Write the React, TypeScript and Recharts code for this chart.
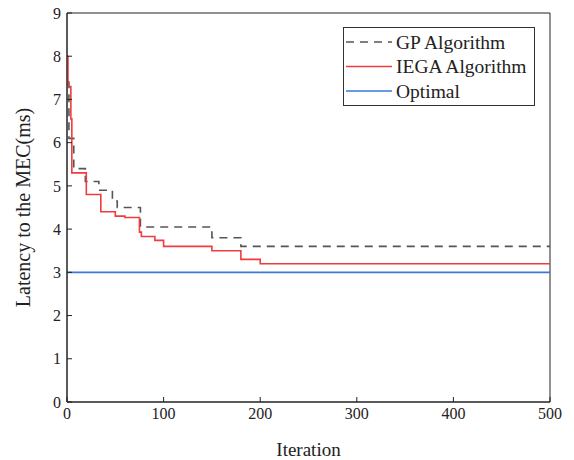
import React from "react";
import { LineChart, Line, XAxis, YAxis, ReferenceArea } from "recharts";

// GP algorithm (dashed gray), step curve
const gpIter = [0, 2, 7, 19, 33, 47, 52, 76, 150, 180, 500];
const gpLatency = [7.4, 6.1, 5.4, 5.1, 4.9, 4.65, 4.5, 4.05, 3.8, 3.6, 3.6];

// IEGA algorithm (red), step curve
const iegaIter = [0, 1, 4, 5, 20, 35, 50, 60, 75, 77, 91, 100, 150, 180, 200, 500];
const iegaLatency = [8.0, 7.3, 6.55, 5.3, 4.8, 4.4, 4.3, 4.27, 3.93, 3.83, 3.74, 3.6, 3.5, 3.3, 3.2, 3.2];

// optimal latency
const optIter = [0, 500];
const optLatency = [3, 3];

const xTicks = [0, 100, 200, 300, 400, 500];
const yTicks = [0, 1, 2, 3, 4, 5, 6, 7, 8, 9];

const seriesNames = ["GP Algorithm", "IEGA Algorithm", "Optimal"];

const toRows = (xs: number[], ys: number[]) => xs.map((x, i) => ({ iter: x, latency: ys[i] }));

const gpData = toRows(gpIter, gpLatency);
const iegaData = toRows(iegaIter, iegaLatency);
const optData = toRows(optIter, optLatency);

const FONT = "'Liberation Serif', 'Times New Roman', serif";
const GRAY = "#555555";
const RED = "#f03c3c";
const BLUE = "#3a78d8";

function LegendBox() {
  const items = [
    { name: seriesNames[0], color: GRAY, dash: "8 6" },
    { name: seriesNames[1], color: RED, dash: undefined },
    { name: seriesNames[2], color: BLUE, dash: undefined },
  ];
  return (
    <svg width={192} height={79} style={{ display: "block" }}>
      <rect x={0.5} y={0.5} width={191} height={78} fill="#fff" stroke="#333" strokeWidth={1} />
      {items.map((it, i) => (
        <g key={it.name}>
          <line
            x1={3}
            x2={49}
            y1={15 + i * 24.5}
            y2={15 + i * 24.5}
            stroke={it.color}
            strokeWidth={1.6}
            strokeDasharray={it.dash}
          />
          <text x={53} y={15 + i * 24.5} dy="0.35em" fontSize={19.5} fontFamily={FONT} fill="#222">
            {it.name}
          </text>
        </g>
      ))}
    </svg>
  );
}

export default function App() {
  return (
    <div style={{ position: "absolute", left: 0, top: 0, width: 574, height: 460, background: "#fff" }}>
      <LineChart width={574} height={460} margin={{ top: 13, right: 24, left: 0, bottom: 0 }}>
        <XAxis
          dataKey="iter"
          type="number"
          domain={[0, 500]}
          ticks={xTicks}
          allowDuplicatedCategory={false}
          height={58}
          tickSize={-5}
          tickMargin={11}
          stroke="#222"
          tick={{ fill: "#222", fontSize: 16, fontFamily: FONT }}
          label={{ value: "Iteration", position: "center", dy: 18, fill: "#222", fontSize: 19, fontFamily: FONT }}
        />
        <YAxis
          dataKey="latency"
          type="number"
          domain={[0, 9]}
          ticks={yTicks}
          width={67}
          tickSize={-5}
          tickMargin={11}
          stroke="#222"
          tick={{ fill: "#222", fontSize: 16, fontFamily: FONT }}
          label={{
            value: "Latency to the MEC(ms)",
            angle: -90,
            position: "center",
            dx: -11,
            fill: "#222",
            fontSize: 20,
            fontFamily: FONT,
          }}
        />
        <ReferenceArea x1={0} x2={500} y1={0} y2={9} fill="none" stroke="#222" strokeWidth={1} />
        <Line
          data={optData}
          dataKey="latency"
          name={seriesNames[2]}
          type="linear"
          stroke={BLUE}
          strokeWidth={1.6}
          dot={false}
          isAnimationActive={false}
        />
        <Line
          data={gpData}
          dataKey="latency"
          name={seriesNames[0]}
          type="stepAfter"
          stroke={GRAY}
          strokeWidth={1.6}
          strokeDasharray="8 6"
          dot={false}
          isAnimationActive={false}
        />
        <Line
          data={iegaData}
          dataKey="latency"
          name={seriesNames[1]}
          type="stepAfter"
          stroke={RED}
          strokeWidth={1.6}
          dot={false}
          isAnimationActive={false}
        />
      </LineChart>
      <div style={{ position: "absolute", left: 343, top: 27 }}>
        <LegendBox />
      </div>
    </div>
  );
}
